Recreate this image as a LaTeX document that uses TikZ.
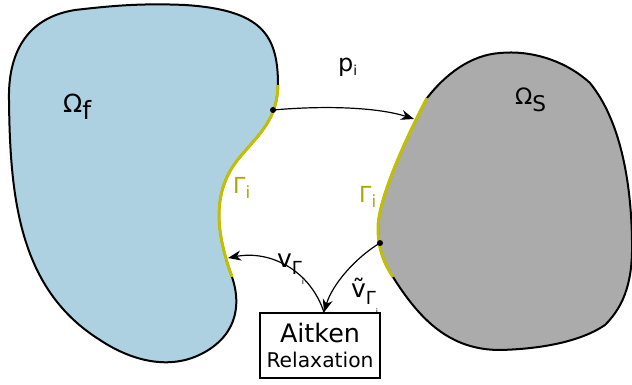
\documentclass[tikz,border=0pt]{standalone}
\usepackage{fontspec}
\usepackage{graphicx}
\setmainfont{DejaVu Sans}
\usetikzlibrary{arrows.meta}
\definecolor{fluid}{RGB}{174,209,226}
\definecolor{solidc}{RGB}{171,171,171}
\definecolor{iface}{RGB}{192,192,0}
\definecolor{ifacetext}{RGB}{168,168,0}
\newcommand\fs[2]{\fontsize{#1}{#2}\selectfont}
\newcommand\lowsub[2]{\raisebox{-#1}{#2}}
\begin{document}
\begin{tikzpicture}[x=1pt,y=-1pt,
  outline/.style={draw=black,line width=2pt},
  ifline/.style={draw=iface,line width=3pt},
  flow/.style={draw=black,line width=1.2pt,-{Stealth[length=13pt,width=10pt,inset=4pt]}},
  dotc/.style={fill=black},
  lbl/.style={inner sep=0pt,text=black},
  iflbl/.style={inner sep=0pt,text=ifacetext},
  boxn/.style={draw=black,line width=1.3pt,minimum width=120pt,minimum height=65pt,inner sep=0pt}]
\useasboundingbox (0,0) rectangle (632,385);
% fluid domain
\path[fill=fluid,outline] (278,85) .. controls (278,35) and (262,10) .. (185,5)
  .. controls (140,3) and (110,6) .. (75,10)
  .. controls (25,18) and (8,55) .. (9,100)
  .. controls (10,200) and (20,290) .. (100,340)
  .. controls (130,360) and (170,372) .. (205,352)
  .. controls (240,332) and (240,300) .. (232,277)
  .. controls (215,230) and (212,190) .. (240,157)
  .. controls (260,133) and (277,120) .. (278,85) -- cycle;
\path[ifline] (232,277) .. controls (215,230) and (212,190) .. (240,157)
  .. controls (260,133) and (277,120) .. (278,85);
% solid domain
\path[fill=solidc,outline] (427,98) .. controls (405,140) and (378,200) .. (378,228)
  .. controls (378,250) and (385,265) .. (393,277)
  .. controls (420,320) and (450,350) .. (500,350)
  .. controls (540,349) and (580,342) .. (605,325)
  .. controls (625,305) and (633,280) .. (632,240)
  .. controls (631,180) and (620,120) .. (590,83)
  .. controls (565,60) and (530,50) .. (500,53)
  .. controls (470,55) and (445,75) .. (427,98) -- cycle;
\path[ifline] (427,98) .. controls (405,140) and (378,200) .. (378,228)
  .. controls (378,250) and (385,265) .. (393,277);
% points
\coordinate (pf) at (273,110);
\coordinate (ps) at (380,243);
\coordinate (tipS) at (414,119);
\coordinate (tipF) at (228,258);
\fill[dotc] (pf) circle (3pt);
\fill[dotc] (ps) circle (3pt);
% box
\node[boxn] (aitken) at (320,345.5) {\vbox{\baselineskip=25pt\lineskiplimit=-50pt
  \hbox to 116pt{\hss\resizebox{80pt}{!}{\fs{25}{25}Aitken}\hss}
  \hbox to 116pt{\hss\resizebox{107pt}{!}{\fs{20}{20}Relaxation}\hss}}};
\coordinate (boxtop) at ([xshift=4pt]aitken.north);
% arrows
\draw[flow] (pf) .. controls (330,105) and (380,108) .. (tipS);
\draw[flow] (boxtop) .. controls (310,270) and (270,250) .. (tipF);
\draw[flow] (ps) .. controls (355,258) and (332,285) .. (boxtop);
% labels
\node[lbl,anchor=base west] (omf) at (63,113) {\resizebox{28pt}{!}{\fs{23}{23}Ω\lowsub{6pt}{\fs{23}{23}f}}};
\node[lbl,anchor=base west] (oms) at (515,105) {\resizebox{31pt}{!}{\fs{24}{24}Ω\lowsub{7pt}{\fs{23}{23}S}}};
\node[lbl,anchor=base west] (pi) at (338,72) {\resizebox{19pt}{!}{\fs{21}{21}p\lowsub{3pt}{\fs{12}{12}i}}};
\node[iflbl,anchor=base west] (gf) at (233,193) {\resizebox{17pt}{!}{\fs{21}{21}Γ\lowsub{5pt}{\fs{16}{16}i}}};
\node[iflbl,anchor=base west] (gs) at (359,202) {\resizebox{17pt}{!}{\fs{21}{21}Γ\lowsub{5pt}{\fs{16}{16}i}}};
\node[lbl,anchor=base west] (vf) at (277,267) {\resizebox{27pt}{!}{\fs{25}{25}v\lowsub{8pt}{\fs{18}{18}Γ\lowsub{10pt}{\fs{8}{8}i}}}};
\node[lbl,anchor=base west] (vs) at (351,297) {\resizebox{27pt}{!}{\fs{25}{25}\~{v}\lowsub{8pt}{\fs{18}{18}Γ\lowsub{10pt}{\fs{8}{8}i}}}};
\end{tikzpicture}
\end{document}
